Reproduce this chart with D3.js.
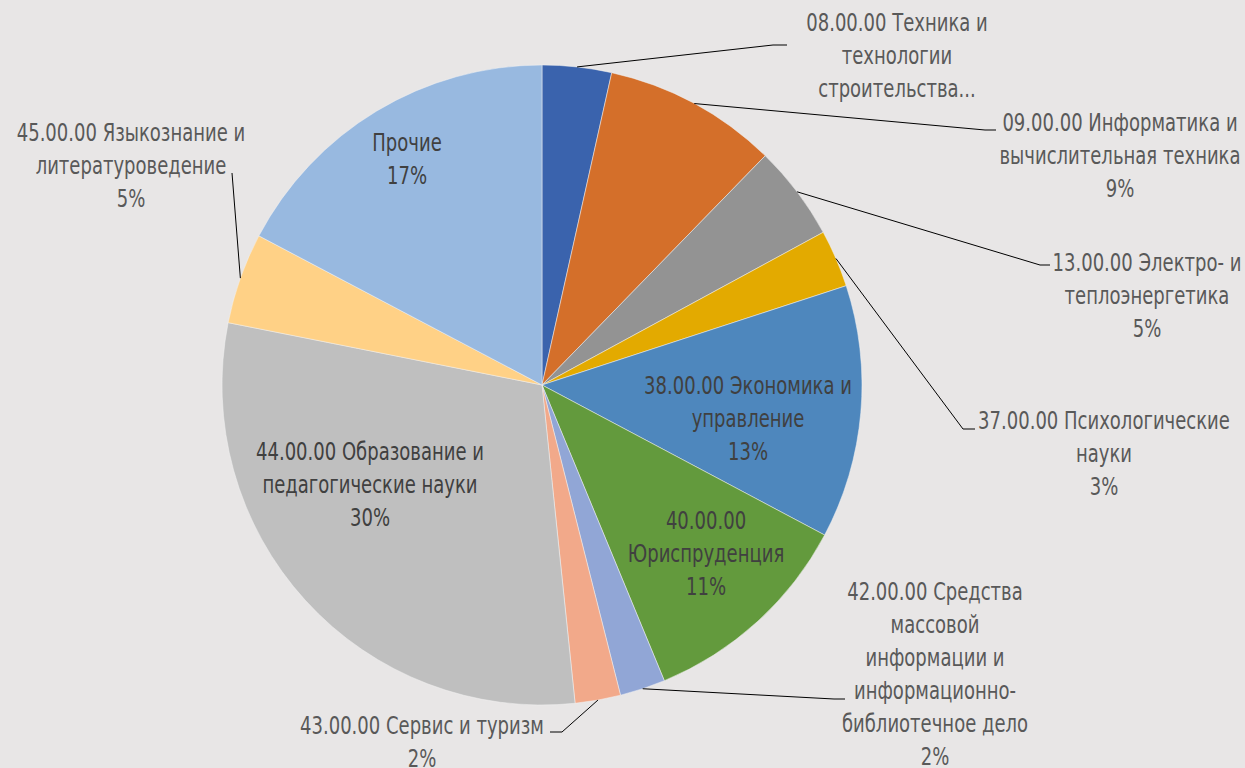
<!DOCTYPE html>
<html>
<head>
<meta charset="utf-8">
<script src="https://cdn.jsdelivr.net/npm/d3@7/dist/d3.min.js"></script>
<style>
  body { margin: 0; background: #e8e6e6; }
  svg { display: block; }
  text { font-family: "DejaVu Sans Condensed", "Liberation Sans Narrow", sans-serif; }
</style>
</head>
<body>
<div id="chart"></div>
<script>
// slices, clockwise from 12 o'clock
const categories = [
  "08.00.00 Техника и|технологии|строительства...",
  "09.00.00 Информатика и|вычислительная техника",
  "13.00.00 Электро- и|теплоэнергетика",
  "37.00.00 Психологические|науки",
  "38.00.00 Экономика и|управление",
  "40.00.00|Юриспруденция",
  "42.00.00 Средства|массовой|информации и|информационно-|библиотечное дело",
  "43.00.00 Сервис и туризм",
  "44.00.00 Образование и|педагогические науки",
  "45.00.00 Языкознание и|литературоведение",
  "Прочие"
];
const values = [3.5, 8.8, 4.8, 2.9, 12.8, 11.0, 2.3, 2.3, 29.8, 4.6, 17.3];
const showPercent = [false, true, true, true, true, true, true, true, true, true, true];
const colors = ["#3a63ad", "#d46f2a", "#939393", "#e3aa00", "#4e87bd", "#639a3d",
                "#91a6d6", "#f2a98a", "#bfbfbf", "#ffd186", "#98b9e0"];

// label layout: center x, first baseline y, inside flag, leader elbow/end
const layout = [
  {x: 897, y: 31, inside: false, elbow: [773, 45], end: [787, 45]},
  {x: 1120, y: 131, inside: false, elbow: [985, 130], end: [996, 130]},
  {x: 1147, y: 271, inside: false, elbow: [1040, 265], end: [1050, 265]},
  {x: 1104, y: 429, inside: false, elbow: [963, 429], end: [975, 429]},
  {x: 748, y: 394, inside: true},
  {x: 706, y: 529, inside: true},
  {x: 935, y: 600, inside: false, elbow: [834, 699], end: [845, 699]},
  {x: 422, y: 734, inside: false, elbow: [562, 732], end: [550, 732]},
  {x: 370, y: 460, inside: true},
  {x: 131, y: 141, inside: false, elbow: [232, 173], end: [232, 173]},
  {x: 407, y: 151, inside: true}
];

const width = 1245, height = 768;
const cx = 542, cy = 385, r = 320;
const lineH = 33;
const fontSize = 24, squeeze = 0.835;

const svg = d3.select('#chart').append('svg')
    .attr('width', width)
    .attr('height', height);

svg.append('rect').attr('width', width).attr('height', height).attr('fill', '#e8e6e6');

const total = d3.sum(values);
const fmt = d3.format('.0%');

const pie = d3.pie().sort(null).value(d => d);
const arcs = pie(values);
const arc = d3.arc().innerRadius(0).outerRadius(r);

const g = svg.append('g').attr('transform', `translate(${cx},${cy})`);

g.selectAll('path').data(arcs).enter()
    .append('path')
    .attr('d', arc)
    .attr('fill', (d, i) => colors[i])
    .attr('stroke', '#f2f2f2')
    .attr('stroke-width', 0.5);

// leader lines
arcs.forEach((d, i) => {
    let l = layout[i];
    if(l.inside) return;
    let a = (d.startAngle + d.endAngle) / 2;
    let p0 = [cx + r * Math.sin(a), cy - r * Math.cos(a)];
    svg.append('polyline')
        .attr('points', [p0, l.elbow, l.end].map(p => p.join(',')).join(' '))
        .attr('fill', 'none')
        .attr('stroke', '#000')
        .attr('stroke-width', 1);
});

// labels (condensed a bit horizontally to mimic the narrow face)
arcs.forEach((d, i) => {
    let l = layout[i];
    let lines = categories[i].split('|');
    if(showPercent[i]) lines.push(fmt(values[i] / total));
    let t = svg.append('text')
        .attr('transform', `translate(${l.x},0) scale(${squeeze},1)`)
        .attr('text-anchor', 'middle')
        .attr('font-size', fontSize)
        .attr('fill', l.inside ? '#404040' : '#595959');
    lines.forEach((s, j) => {
        t.append('tspan').attr('x', 0).attr('y', l.y + j * lineH).text(s);
    });
});
</script>
</body>
</html>
